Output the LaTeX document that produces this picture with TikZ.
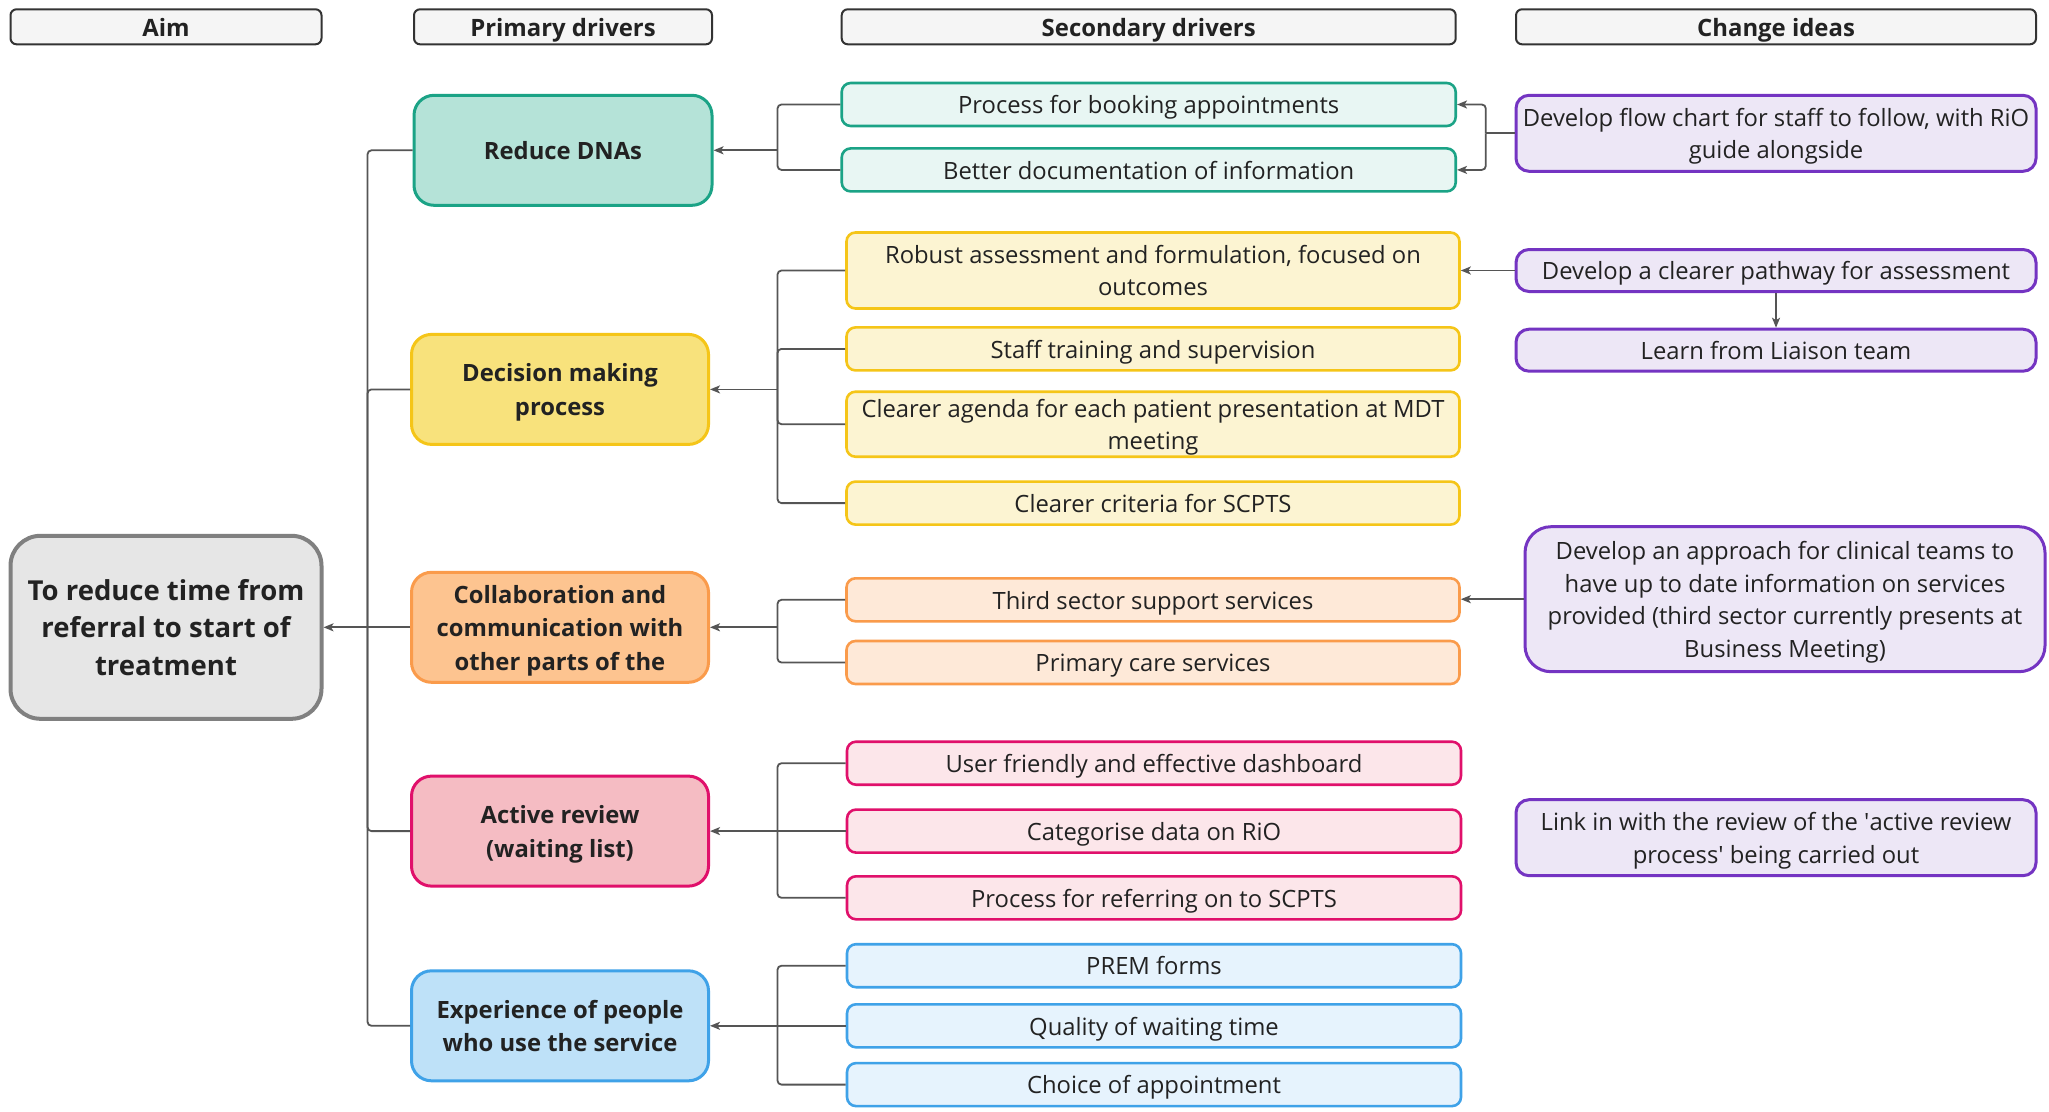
\documentclass[tikz,border=0pt]{standalone}
\usepackage{fontspec}
\setmainfont{Open Sans}
\usetikzlibrary{arrows.meta}

\definecolor{txt}{HTML}{222222}
\definecolor{linec}{HTML}{555555}
\definecolor{hdrfill}{HTML}{F5F5F5}
\definecolor{hdrline}{HTML}{333333}
\definecolor{aimfill}{HTML}{E6E6E6}
\definecolor{aimline}{HTML}{808080}
\definecolor{tealline}{HTML}{1BA386}
\definecolor{tealdark}{HTML}{B5E3D8}
\definecolor{teallight}{HTML}{E8F6F3}
\definecolor{yelline}{HTML}{F5C518}
\definecolor{yeldark}{HTML}{F8E27C}
\definecolor{yellight}{HTML}{FCF4D2}
\definecolor{orgline}{HTML}{FA9B4B}
\definecolor{orgdark}{HTML}{FDC490}
\definecolor{orglight}{HTML}{FEE9D8}
\definecolor{pinkline}{HTML}{E0106B}
\definecolor{pinkdark}{HTML}{F5BCC3}
\definecolor{pinklight}{HTML}{FCE6EA}
\definecolor{blueline}{HTML}{3FA2E8}
\definecolor{bluedark}{HTML}{BEE1F8}
\definecolor{bluelight}{HTML}{E6F3FD}
\definecolor{purpline}{HTML}{7434C2}
\definecolor{purpfill}{HTML}{EDE7F6}

% struts that give every text block the font's full ascent and descent,
% so that lines sit centred the same way whatever letters they hold
\newcommand\topstrut{\rule{0pt}{1.069em}}
\newcommand\botstrut{\rule[-0.293em]{0pt}{0pt}}

\tikzset{
  box/.style={align=center, inner sep=0pt, text=txt,
    execute at begin node=\topstrut, execute at end node=\botstrut},
  hdr/.style={box, draw=hdrline, fill=hdrfill, line width=2pt, rounded corners=6pt,
    minimum height=35pt,
    font=\fontsize{23.9}{29}\selectfont\bfseries},
  aimbox/.style={box, draw=aimline, fill=aimfill, line width=4pt, rounded corners=30pt,
    minimum width=311pt, minimum height=183pt,
    font=\fontsize{27.5}{37.5}\selectfont\bfseries},
  prim/.style={box, line width=3pt, rounded corners=20pt,
    minimum width=297pt, minimum height=110pt,
    font=\fontsize{23.8}{33.5}\selectfont\bfseries},
  sec/.style={box, line width=2.6pt, rounded corners=9pt,
    minimum width=613pt, minimum height=43pt,
    font=\fontsize{23.8}{32.5}\selectfont},
  idea/.style={box, draw=purpline, fill=purpfill, line width=3pt, rounded corners=13pt,
    minimum width=520pt, minimum height=42pt,
    font=\fontsize{23.8}{32.5}\selectfont},
  teal/.style={draw=tealline, fill=#1},
  yel/.style={draw=yelline, fill=#1},
  org/.style={draw=orgline, fill=#1},
  pnk/.style={draw=pinkline, fill=#1},
  blu/.style={draw=blueline, fill=#1},
  conn/.style={draw=linec, line width=1.8pt, rounded corners=4pt},
  tip/.style={conn, -{Stealth[length=10pt,width=8pt,inset=2.5pt]}},
}

\begin{document}
\begin{tikzpicture}[x=1pt, y=-1pt]
\fill[white] (0,0) rectangle (2049,1111);
\useasboundingbox (0,0) rectangle (2049,1111);

% column headings
\node[hdr, minimum width=311pt] (hA) at (166,26.8) {Aim};
\node[hdr, minimum width=298pt] (hP) at (563,26.8) {Primary drivers};
\node[hdr, minimum width=614pt] (hS) at (1148.7,26.8) {Secondary drivers};
\node[hdr, minimum width=520pt] (hC) at (1776,26.8) {Change ideas};

% aim
\node[aimbox] (aim) at (166,627.3) {\topstrut To reduce time from\\referral to start of\\treatment};

% primary drivers
\node[prim, teal=tealdark, minimum width=298pt] (p1) at (563,150.3) {Reduce DNAs};
\node[prim, yel=yeldark] (p2) at (560,389.4) {\topstrut Decision making\\process};
\node[prim, org=orgdark] (p3) at (560,627.3) {\topstrut Collaboration and\\communication with\\other parts of the};
\node[prim, pnk=pinkdark] (p4) at (560,831.1) {\topstrut Active review\\(waiting list)};
\node[prim, blu=bluedark] (p5) at (560,1025.8) {\topstrut Experience of people\\who use the service};

% secondary drivers
\node[sec, teal=teallight, minimum width=614pt] (s11) at (1148.7,104.5) {Process for booking appointments};
\node[sec, teal=teallight, minimum width=614pt] (s12) at (1148.7,169.9) {Better documentation of information};

\node[sec, yel=yellight, minimum height=76pt] (s21) at (1153,270.5) {\topstrut Robust assessment and formulation, focused on\\outcomes};
\node[sec, yel=yellight] (s22) at (1153,348.9) {Staff training and supervision};
\node[sec, yel=yellight, minimum height=65pt] (s23) at (1153,424.2) {\topstrut Clearer agenda for each patient presentation at MDT\\meeting};
\node[sec, yel=yellight] (s24) at (1153,503.1) {Clearer criteria for SCPTS};

\node[sec, org=orglight] (s31) at (1153,599.8) {Third sector support services};
\node[sec, org=orglight] (s32) at (1153,662.5) {Primary care services};

\node[sec, pnk=pinklight, minimum width=614pt] (s41) at (1154,763.2) {User friendly and effective dashboard};
\node[sec, pnk=pinklight, minimum width=614pt] (s42) at (1154,831.1) {Categorise data on RiO};
\node[sec, pnk=pinklight, minimum width=614pt] (s43) at (1154,897.8) {Process for referring on to SCPTS};

\node[sec, blu=bluelight, minimum width=614pt] (s51) at (1154,965.7) {PREM forms};
\node[sec, blu=bluelight, minimum width=614pt] (s52) at (1154,1025.8) {Quality of waiting time};
\node[sec, blu=bluelight, minimum width=614pt] (s53) at (1154,1084.6) {Choice of appointment};

% change ideas
\node[idea, minimum height=76pt] (c1) at (1776,133.3) {\topstrut Develop flow chart for staff to follow, with RiO\\guide alongside};
\node[idea] (c2) at (1776,270.5) {Develop a clearer pathway for assessment};
\node[idea] (c3) at (1776,350.2) {Learn from Liaison team};
\node[idea, minimum height=145pt, rounded corners=26pt] (c4) at (1785,599.2) {\topstrut Develop an approach for clinical teams to\\have up to date information on services\\provided (third sector currently presents at\\Business Meeting)};
\node[idea, minimum height=76pt] (c5) at (1776,837.7) {\topstrut Link in with the review of the \textquotesingle active review\\process\textquotesingle\ being carried out};

% junction columns
\coordinate (tx) at (367.5,0);
\coordinate (bx) at (777.5,0);
\coordinate (cx) at (1485.8,0);

% primary drivers into the aim
\draw[conn] (p1.west) -- (tx |- p1.west) -- (tx |- aim.east);
\draw[conn] (p2.west) -- (tx |- p2.west) -- (tx |- aim.east);
\draw[conn] (p4.west) -- (tx |- p4.west) -- (tx |- aim.east);
\draw[conn] (p5.west) -- (tx |- p5.west) -- (tx |- aim.east);
\draw[tip] (p3.west) -- (aim.east);

% secondary drivers into primary drivers
\draw[conn] (s11.west) -- (bx |- s11.west) -- (bx |- p1.east);
\draw[conn] (s12.west) -- (bx |- s12.west) -- (bx |- p1.east);
\draw[tip] (bx |- p1.east) -- (p1.east);

\draw[conn] (s21.west) -- (bx |- s21.west) -- (bx |- p2.east);
\draw[conn] (s22.west) -- (bx |- s22.west) -- (bx |- p2.east);
\draw[conn] (s23.west) -- (bx |- s23.west) -- (bx |- p2.east);
\draw[conn] (s24.west) -- (bx |- s24.west) -- (bx |- p2.east);
\draw[tip] (bx |- p2.east) -- (p2.east);

\draw[conn] (s31.west) -- (bx |- s31.west) -- (bx |- p3.east);
\draw[conn] (s32.west) -- (bx |- s32.west) -- (bx |- p3.east);
\draw[tip] (bx |- p3.east) -- (p3.east);

\draw[conn] (s41.west) -- (bx |- s41.west) -- (bx |- p4.east);
\draw[conn] (s43.west) -- (bx |- s43.west) -- (bx |- p4.east);
\draw[tip] (s42.west) -- (p4.east);

\draw[conn] (s51.west) -- (bx |- s51.west) -- (bx |- p5.east);
\draw[conn] (s53.west) -- (bx |- s53.west) -- (bx |- p5.east);
\draw[tip] (s52.west) -- (p5.east);

% change ideas into secondary drivers
\draw[conn] (c1.west) -- (cx |- c1.west);
\draw[tip] (cx |- c1.west) -- (cx |- s11.east) -- (s11.east);
\draw[tip] (cx |- c1.west) -- (cx |- s12.east) -- (s12.east);
\draw[tip] (c2.west) -- (s21.east);
\draw[tip] (c2.south) -- (c3.north);
\draw[tip] (c4.west) -- (c4.west -| s31.east);
\end{tikzpicture}
\end{document}
